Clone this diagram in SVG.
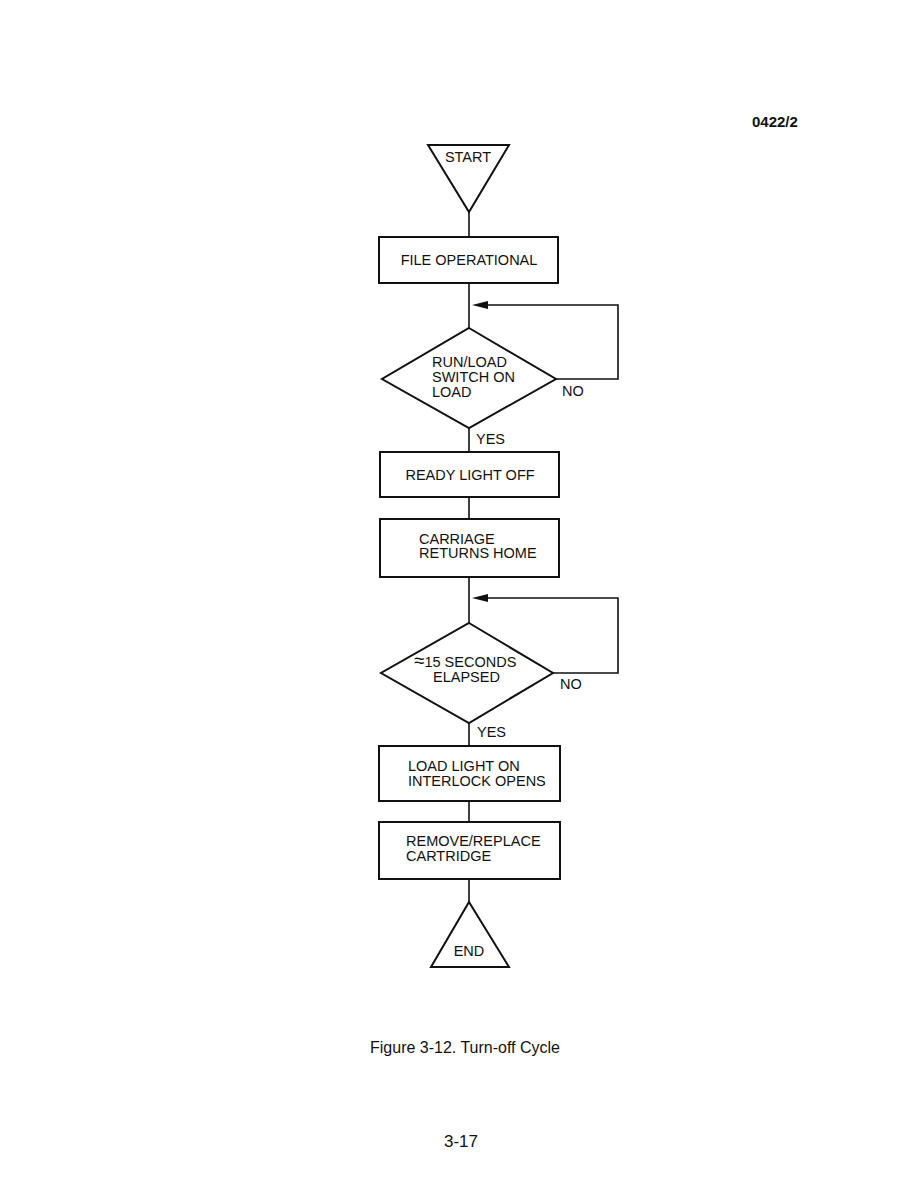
<svg xmlns="http://www.w3.org/2000/svg" width="918" height="1188" viewBox="0 0 918 1188">
<style>
.s{fill:#fff;stroke:#111;stroke-width:2}
.c{fill:none;stroke:#111;stroke-width:1.6}
.t{font-family:"Liberation Sans",Arial,sans-serif;font-size:14.5px;fill:#111}
.m{text-anchor:middle}
</style>
<rect width="918" height="1188" fill="#fff"/>
<text class="t" x="752" y="127" style="font-weight:bold;font-size:15px">0422/2</text>
<g id="connectors">
<path class="c" d="M469 212V237M469 283V328M469 428V452M469 497V519M469 577V623M469 723V746M469 801V822M469 879V902"/>
<path class="c" d="M556 379H618V305H480M553 673H618V598H480"/>
<polygon points="472,305 488,301 488,309" fill="#111"/>
<polygon points="472,598 488,594 488,602" fill="#111"/>
</g>
<g id="start">
<polygon class="s" points="428,145 509,145 469,212"/>
<text class="t m" x="468" y="162">START</text>
</g>
<g id="file-operational">
<rect class="s" x="379" y="237" width="179" height="46"/>
<text class="t m" x="469" y="265">FILE OPERATIONAL</text>
</g>
<g id="runload-decision">
<polygon class="s" points="469,328 556,379 469,428 382,379"/>
<text class="t" x="432" y="367">RUN/LOAD</text>
<text class="t" x="432" y="382">SWITCH ON</text>
<text class="t" x="432" y="397">LOAD</text>
<text class="t" x="562" y="396">NO</text>
<text class="t" x="476" y="444">YES</text>
</g>
<g id="ready-light-off">
<rect class="s" x="380" y="452" width="179" height="45"/>
<text class="t m" x="470" y="480">READY LIGHT OFF</text>
</g>
<g id="carriage-returns">
<rect class="s" x="380" y="519" width="179" height="58"/>
<text class="t" x="419" y="544">CARRIAGE</text>
<text class="t" x="419" y="558">RETURNS HOME</text>
</g>
<g id="seconds-decision">
<polygon class="s" points="469,623 553,673 469,723 381,673"/>
<text class="t" x="414" y="667"><tspan style="font-size:19px">≈</tspan>15 SECONDS</text>
<text class="t" x="433" y="682">ELAPSED</text>
<text class="t" x="560" y="689">NO</text>
<text class="t" x="477" y="737">YES</text>
</g>
<g id="load-light-on">
<rect class="s" x="379" y="746" width="181" height="55"/>
<text class="t" x="408" y="771">LOAD LIGHT ON</text>
<text class="t" x="408" y="786">INTERLOCK OPENS</text>
</g>
<g id="remove-replace">
<rect class="s" x="379" y="822" width="181" height="57"/>
<text class="t" x="406" y="846">REMOVE/REPLACE</text>
<text class="t" x="406" y="861">CARTRIDGE</text>
</g>
<g id="end">
<polygon class="s" points="469,902 509,967 431,967"/>
<text class="t m" x="469" y="956">END</text>
</g>
<text class="t" x="370" y="1053" style="font-size:16px">Figure 3-12. Turn-off Cycle</text>
<text class="t m" x="461" y="1147" style="font-size:17px">3-17</text>
</svg>
